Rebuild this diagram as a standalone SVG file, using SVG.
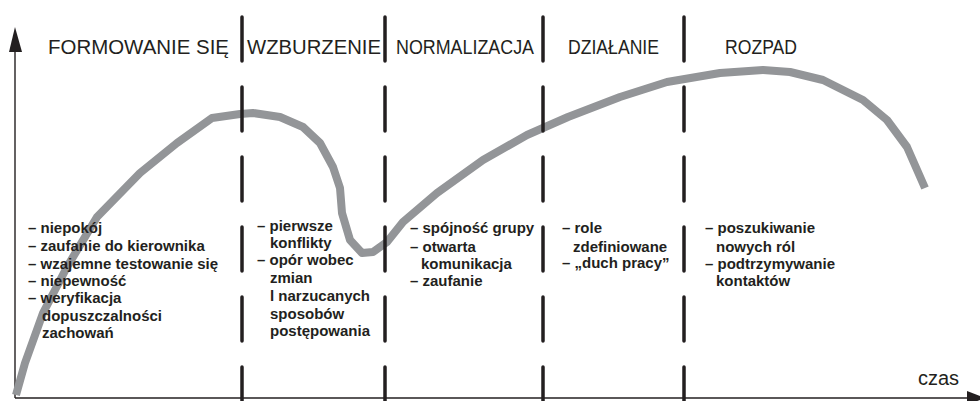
<svg xmlns="http://www.w3.org/2000/svg" width="980" height="401" viewBox="0 0 980 401">
<style>
.hdr{font-family:"Liberation Sans",Arial,sans-serif;font-size:20px;fill:#231f20}
.txt{font-family:"Liberation Sans",Arial,sans-serif;font-size:15px;font-weight:bold;fill:#231f20}
.axis{stroke:#231f20;stroke-width:1.4;fill:none}
.sep{stroke:#231f20;stroke-width:3.5;stroke-linecap:round;stroke-dasharray:44 26;fill:none}
.curve{stroke:#939598;stroke-width:8;fill:none;stroke-linejoin:round}
</style>
<rect width="980" height="401" fill="#ffffff"/>
<g id="axes">
<line class="axis" x1="15" y1="48" x2="15" y2="398"/>
<polygon points="15,27 9,52 22,52" fill="#231f20"/>
<line class="axis" x1="15" y1="398" x2="970" y2="398"/>
<polygon points="967,391 985,398 967,405" fill="#231f20"/>
<text class="hdr" x="918" y="385">czas</text>
</g>
<g id="curve">
<polyline class="curve" points="16,395 25,363 43,313 67,267 97,217 140,173 177,143 212,118 240,114 253,113 280,117 303,127 320,143 333,167 340,188 342,213 350,240 362,253 373,252 387,242 403,222 437,193 483,160 527,135 568,117 620,97 667,82 720,73 763,70 790,72 823,80 863,100 887,120 907,147 925,188"/>
</g>
<g id="connectors">
<line class="sep" x1="242" y1="17" x2="242" y2="401"/>
<line class="sep" x1="385" y1="17" x2="385" y2="401"/>
<line class="sep" x1="543" y1="17" x2="543" y2="401"/>
<line class="sep" x1="684" y1="17" x2="684" y2="401"/>
</g>
<g id="formowanie">
<text class="hdr" x="48" y="54" textLength="181" lengthAdjust="spacingAndGlyphs">FORMOWANIE SIĘ</text>
<text class="txt" x="28" y="233">– niepokój</text>
<text class="txt" x="28" y="251">– zaufanie do kierownika</text>
<text class="txt" x="28" y="269">– wzajemne testowanie się</text>
<text class="txt" x="28" y="286">– niepewność</text>
<text class="txt" x="28" y="303">– weryfikacja</text>
<text class="txt" x="42" y="321">dopuszczalności</text>
<text class="txt" x="42" y="338">zachowań</text>
</g>
<g id="wzburzenie">
<text class="hdr" x="247" y="54" textLength="134" lengthAdjust="spacingAndGlyphs">WZBURZENIE</text>
<text class="txt" x="257" y="231">– pierwsze</text>
<text class="txt" x="270" y="248">konflikty</text>
<text class="txt" x="257" y="265">– opór wobec</text>
<text class="txt" x="270" y="283">zmian</text>
<text class="txt" x="270" y="301">l narzucanych</text>
<text class="txt" x="270" y="319">sposobów</text>
<text class="txt" x="270" y="336">postępowania</text>
</g>
<g id="normalizacja">
<text class="hdr" x="396" y="54" textLength="138" lengthAdjust="spacingAndGlyphs">NORMALIZACJA</text>
<text class="txt" x="410" y="233">– spójność grupy</text>
<text class="txt" x="410" y="252">– otwarta</text>
<text class="txt" x="421" y="269">komunikacja</text>
<text class="txt" x="410" y="286">– zaufanie</text>
</g>
<g id="dzialanie">
<text class="hdr" x="568" y="54" textLength="91" lengthAdjust="spacingAndGlyphs">DZIAŁANIE</text>
<text class="txt" x="562" y="233">– role</text>
<text class="txt" x="573" y="252">zdefiniowane</text>
<text class="txt" x="562" y="268">– „duch pracy”</text>
</g>
<g id="rozpad">
<text class="hdr" x="725" y="54" textLength="72" lengthAdjust="spacingAndGlyphs">ROZPAD</text>
<text class="txt" x="705" y="233">– poszukiwanie</text>
<text class="txt" x="716" y="252">nowych ról</text>
<text class="txt" x="705" y="269">– podtrzymywanie</text>
<text class="txt" x="716" y="286">kontaktów</text>
</g>
</svg>
